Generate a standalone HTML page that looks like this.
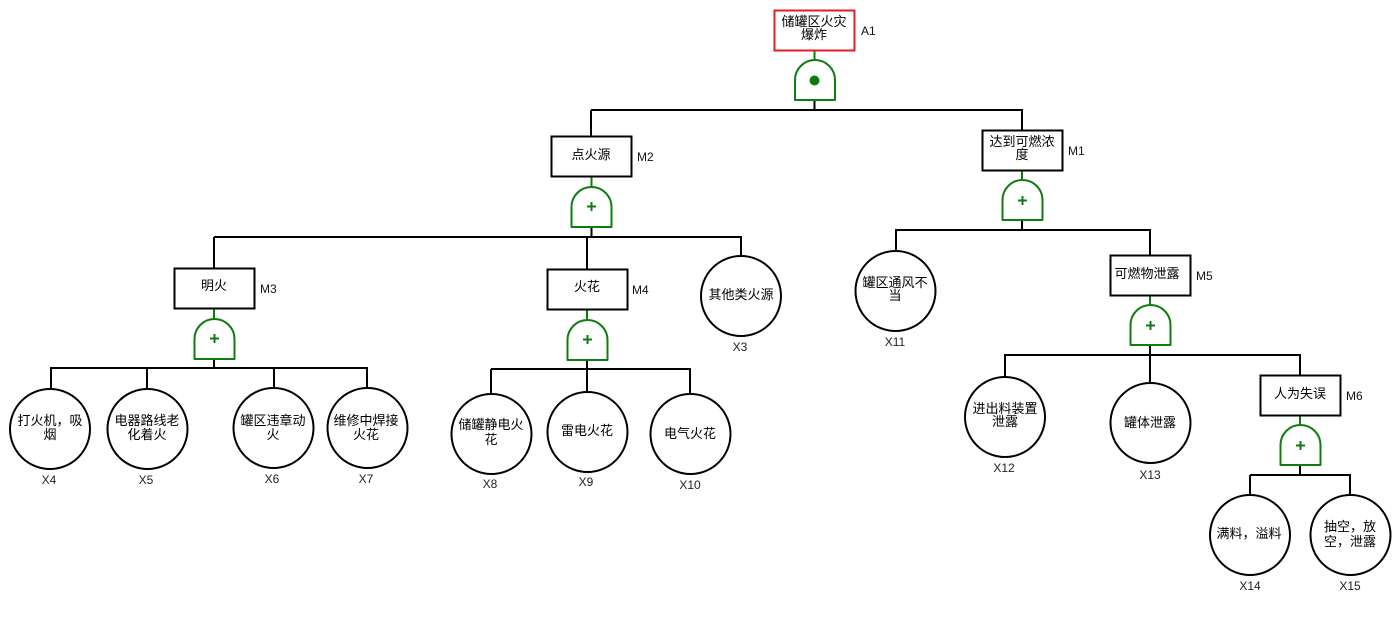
<!DOCTYPE html>
<html><head><meta charset="utf-8"><style>
html,body{margin:0;padding:0;background:#fff;width:1400px;height:635px;overflow:hidden}
svg{display:block}
.b{fill:#fff;stroke:#000;stroke-width:2}
.l{fill:none;stroke:#000;stroke-width:2}
.g{fill:#fff;stroke:#107c10;stroke-width:2;stroke-linejoin:round}
.s{fill:none;stroke:#107c10;stroke-width:2}
.p{fill:none;stroke:#107c10;stroke-width:2}
text{font-family:"Liberation Sans","Noto Sans CJK SC",sans-serif}
.t{font-size:13px;fill:#000;text-anchor:middle}
.k{font-size:12px;fill:#111}
.m{font-size:12px;fill:#222;text-anchor:middle}
</style></head><body>
<svg width="1400" height="635" viewBox="0 0 1400 635" xmlns="http://www.w3.org/2000/svg">
<!-- connectors -->
<path class="l" d="M814.500 100V110M591 110H1023M591 110V136M1022 110V130"/>
<path class="l" d="M591.500 227V237M214 237H742M214 237V268M587 237V269M741 237V256"/>
<path class="l" d="M1022 220V230M895 230H1151M896 230V251M1150 230V255"/>
<path class="l" d="M214 359V368M50 368H368M51 368V390M147 368V389M274 368V388M367 368V388"/>
<path class="l" d="M587 360V369M491 369H691M491 369V394M587 369V392M690 369V394"/>
<path class="l" d="M1150 345V355M1004 355H1301M1005 355V377M1150 355V383M1300 355V375"/>
<path class="l" d="M1300 465V475M1250 475H1351M1250 475V495M1350 475V495"/>
<path class="s" d="M814.500 50V60M591.500 177V187M1022 171V181M214 309V319M587 310V320M1150 296V306M1300 416V426"/>
<!-- top -->
<rect x="774.500" y="10.500" width="80" height="40" fill="#fff" stroke="#e51c23" stroke-width="2"/>
<text class="t" x="814" y="26">储罐区火灾</text><text class="t" x="814" y="39">爆炸</text>
<text class="k" x="861" y="35">A1</text>
<path class="g" d="M795 100V80A20 20 0 0 1 835 80V100Z"/>
<circle cx="814.500" cy="80.500" r="5" fill="#0a7d0a"/>
<!-- M2 -->
<rect class="b" x="551.500" y="136.500" width="80" height="40"/>
<text class="t" x="591" y="159">点火源</text><text class="k" x="637" y="161">M2</text>
<path class="g" d="M571.500 227V207A20 20 0 0 1 611.500 207V227Z"/>
<path class="p" d="M587 206.500H596M591.500 202V211"/>
<!-- M1 -->
<rect class="b" x="982.500" y="130.500" width="80" height="40"/>
<text class="t" x="1022" y="146">达到可燃浓</text><text class="t" x="1022" y="159">度</text><text class="k" x="1068" y="155">M1</text>
<path class="g" d="M1002.500 220V200A20 20 0 0 1 1042.500 200V220Z"/>
<path class="p" d="M1018 200.500H1027M1022.500 196V205"/>
<!-- M3 -->
<rect class="b" x="174.500" y="268.500" width="80" height="40"/>
<text class="t" x="214" y="290">明火</text><text class="k" x="260" y="293">M3</text>
<path class="g" d="M194.500 359V339A20 20 0 0 1 234.500 339V359Z"/>
<path class="p" d="M210 338.500H219M214.500 334V343"/>
<!-- M4 -->
<rect class="b" x="547.500" y="269.500" width="80" height="40"/>
<text class="t" x="587" y="291">火花</text><text class="k" x="632" y="294">M4</text>
<path class="g" d="M567.500 360V340A20 20 0 0 1 607.500 340V360Z"/>
<path class="p" d="M583 339.500H592M587.500 335V344"/>
<!-- M5 -->
<rect class="b" x="1110.500" y="255.500" width="80" height="40"/>
<text class="t" x="1147" y="278">可燃物泄露</text><text class="k" x="1196" y="280">M5</text>
<path class="g" d="M1130.500 345V325A20 20 0 0 1 1170.500 325V345Z"/>
<path class="p" d="M1146 325.500H1155M1150.500 321V330"/>
<!-- M6 -->
<rect class="b" x="1260.500" y="375.500" width="80" height="40"/>
<text class="t" x="1300" y="398">人为失误</text><text class="k" x="1346" y="400">M6</text>
<path class="g" d="M1280.500 465V445A20 20 0 0 1 1320.500 445V465Z"/>
<path class="p" d="M1296 445.500H1305M1300.500 441V450"/>
<!-- events -->
<circle class="b" cx="50" cy="429" r="40"/>
<text class="t" x="50" y="425">打火机，吸</text><text class="t" x="50" y="439">烟</text><text class="m" x="49" y="484">X4</text>
<circle class="b" cx="147.500" cy="429" r="40"/>
<text class="t" x="147" y="425">电器路线老</text><text class="t" x="147" y="439">化着火</text><text class="m" x="146" y="484">X5</text>
<circle class="b" cx="273.500" cy="428" r="40"/>
<text class="t" x="273" y="425">罐区违章动</text><text class="t" x="273" y="439">火</text><text class="m" x="272" y="483">X6</text>
<circle class="b" cx="367.500" cy="428" r="40"/>
<text class="t" x="366" y="425">维修中焊接</text><text class="t" x="366" y="439">火花</text><text class="m" x="366" y="483">X7</text>
<circle class="b" cx="491.500" cy="434" r="40"/>
<text class="t" x="491" y="429">储罐静电火</text><text class="t" x="491" y="444">花</text><text class="m" x="490" y="488">X8</text>
<circle class="b" cx="587.500" cy="432" r="40"/>
<text class="t" x="587" y="435">雷电火花</text><text class="m" x="586" y="486">X9</text>
<circle class="b" cx="690.500" cy="434" r="40"/>
<text class="t" x="690" y="438">电气火花</text><text class="m" x="690" y="489">X10</text>
<circle class="b" cx="741" cy="296" r="40"/>
<text class="t" x="741" y="299">其他类火源</text><text class="m" x="740" y="351">X3</text>
<circle class="b" cx="895.500" cy="291" r="40"/>
<text class="t" x="895" y="287">罐区通风不</text><text class="t" x="895" y="300">当</text><text class="m" x="895" y="346">X11</text>
<circle class="b" cx="1005" cy="417" r="40"/>
<text class="t" x="1005" y="413">进出料装置</text><text class="t" x="1005" y="426">泄露</text><text class="m" x="1004" y="472">X12</text>
<circle class="b" cx="1150.500" cy="423" r="40"/>
<text class="t" x="1150" y="427">罐体泄露</text><text class="m" x="1150" y="479">X13</text>
<circle class="b" cx="1250" cy="535" r="40"/>
<text class="t" x="1249" y="538">满料，溢料</text><text class="m" x="1250" y="590">X14</text>
<circle class="b" cx="1350.500" cy="535" r="40"/>
<text class="t" x="1350" y="531">抽空，放</text><text class="t" x="1350" y="546">空，泄露</text><text class="m" x="1350" y="590">X15</text>
</svg>
</body></html>
